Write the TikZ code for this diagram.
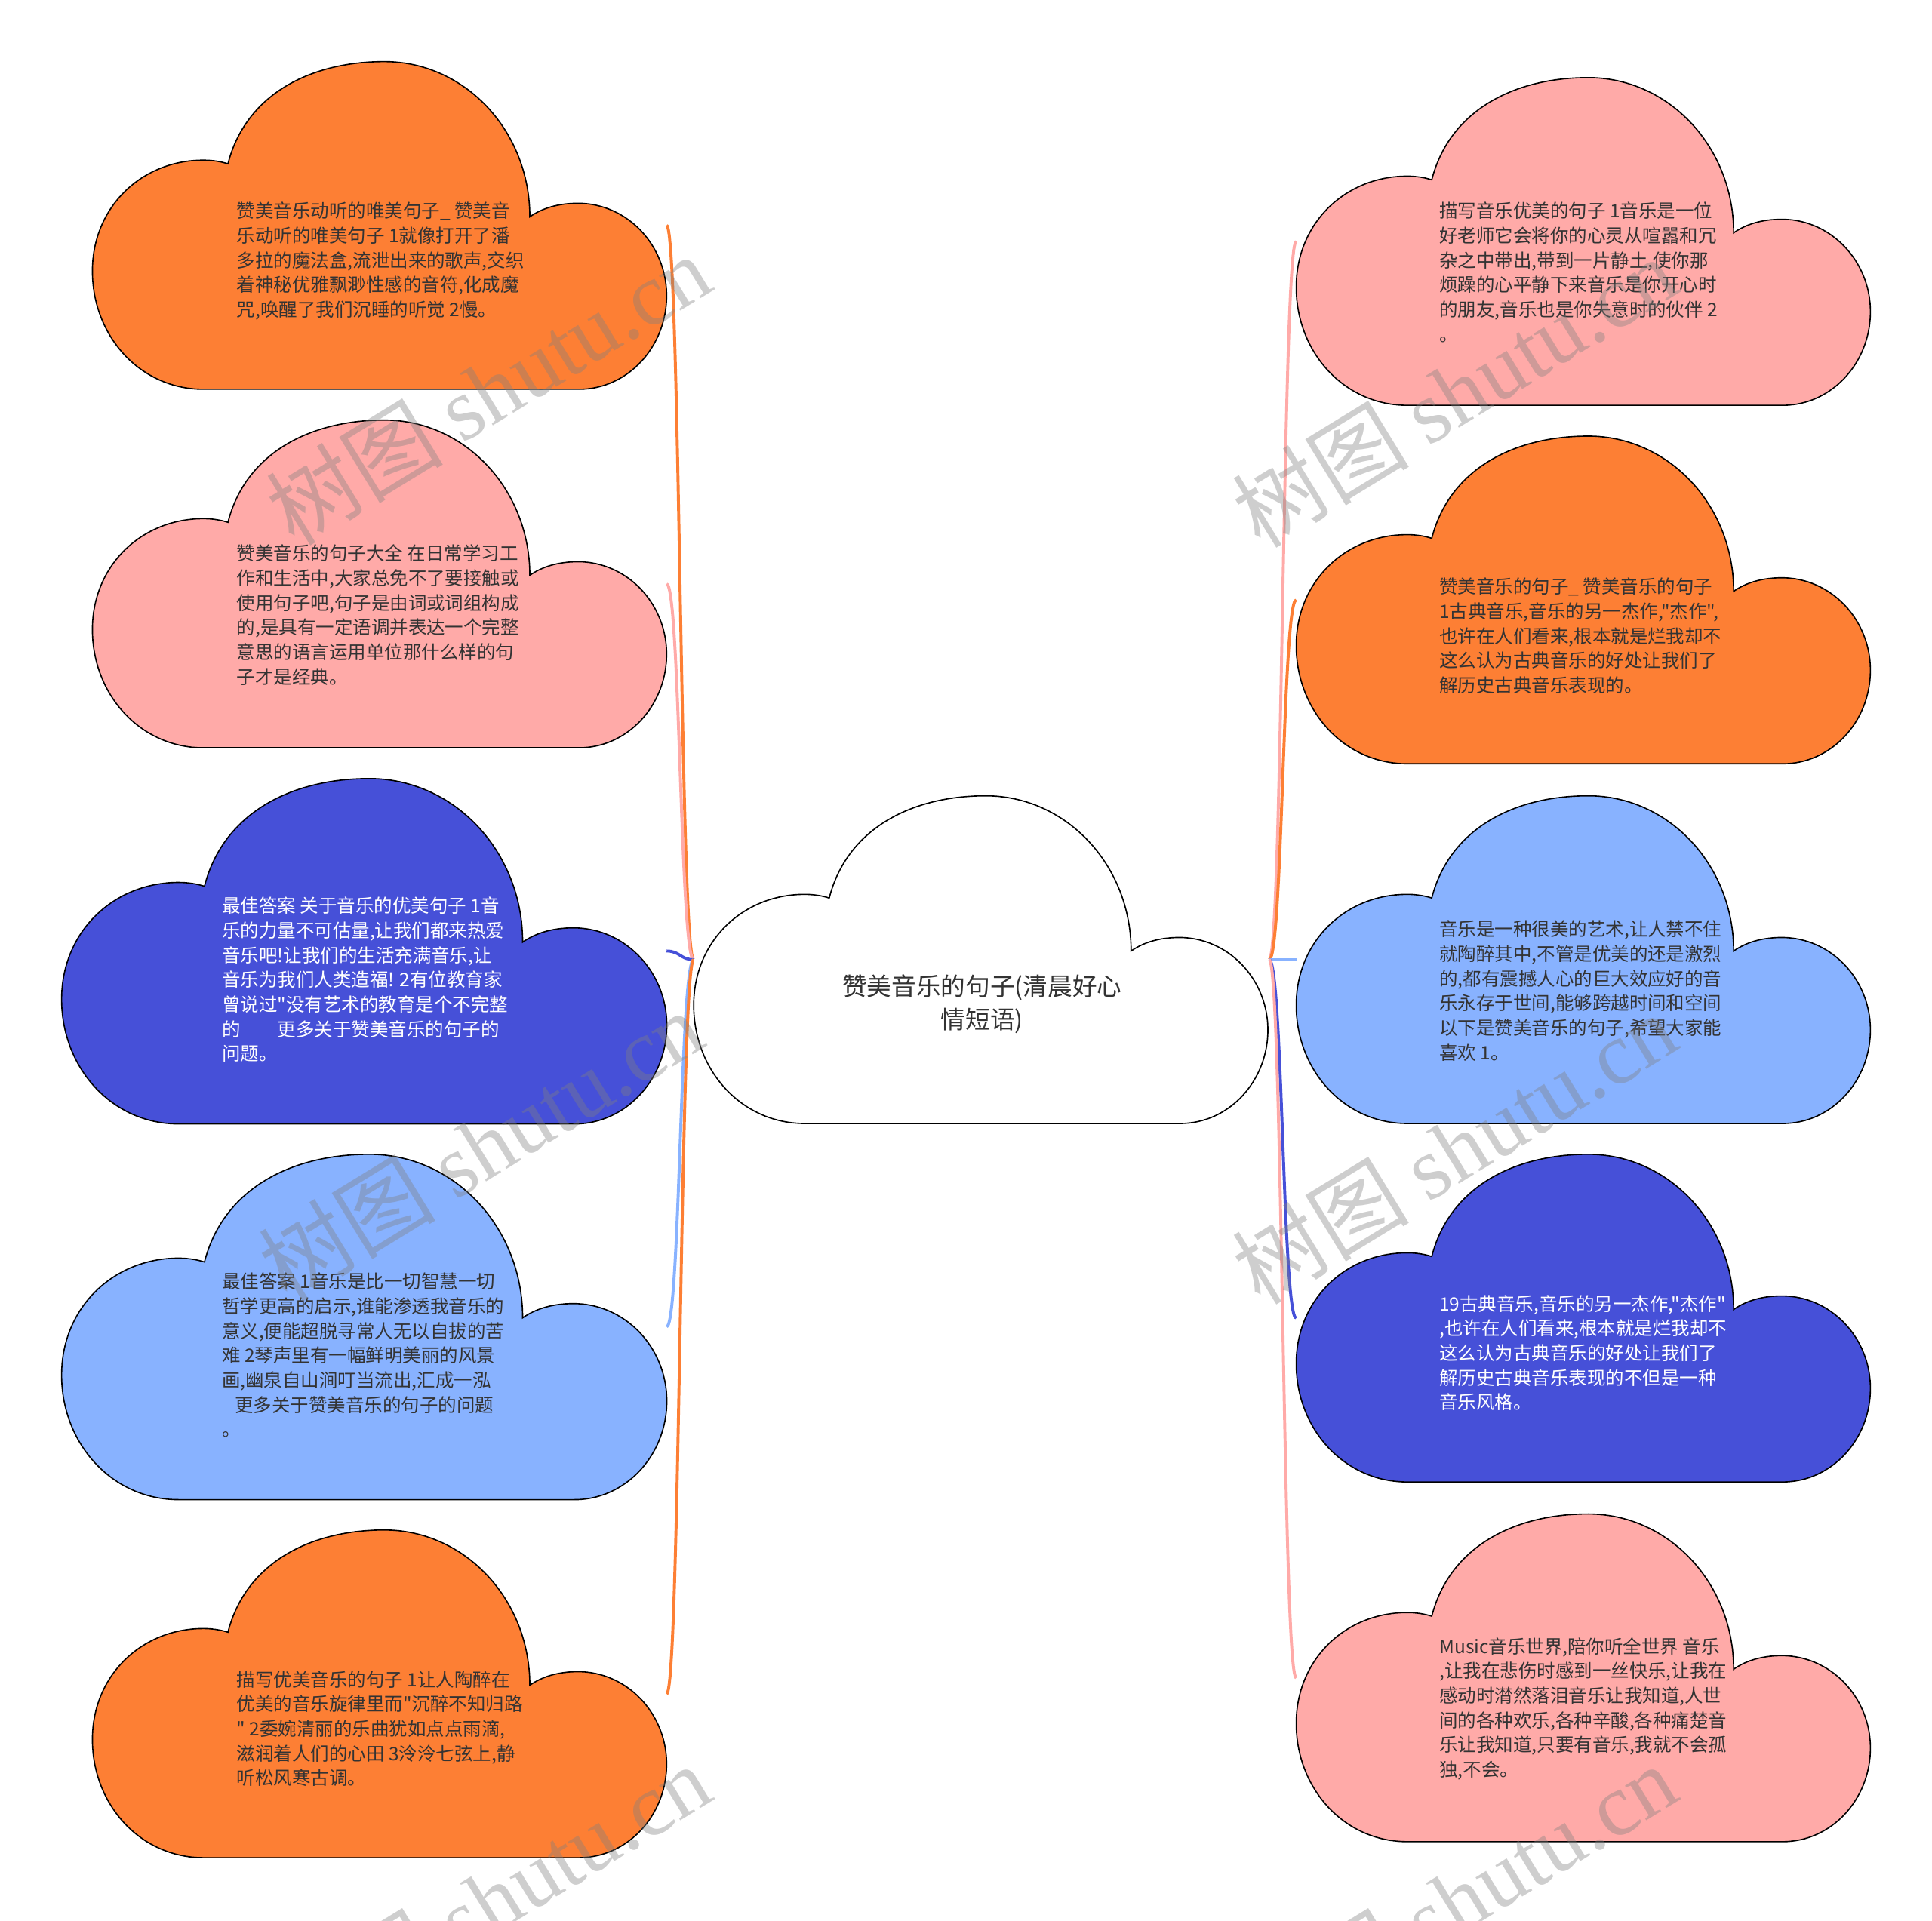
\documentclass[tikz,border=0pt]{standalone}
\usepackage{fontspec}
\newfontfamily\cjkfont{Noto Sans CJK SC}
\newfontfamily\wmlatin{Liberation Serif}
\usetikzlibrary{calc}
\definecolor{cOrange}{RGB}{253,127,52}
\definecolor{cPink}{RGB}{255,170,168}
\definecolor{cNavy}{RGB}{70,80,216}
\definecolor{cSky}{RGB}{136,178,255}
\definecolor{cText}{HTML}{333333}
\tikzset{
  cloudline/.style={draw=black,line width=1pt},
  conn/.style={line width=2.4pt},
  celltext/.style={anchor=west,align=left,inner sep=0pt,font=\cjkfont\fontsize{15}{20}\selectfont,text=cText},
  whitetext/.style={celltext,text=white},
  maintext/.style={align=center,inner sep=0pt,font=\cjkfont\fontsize{20}{27}\selectfont,text=cText},
  watermark/.style={inner sep=0pt,rotate=31.5,text=gray,opacity=0.38,font=\cjkfont\fontsize{72}{72}\selectfont}
}
\newcommand\cloudat[4]{%
  \begin{scope}[shift={(#1,#2)},scale=#3]
    \path[cloudline,fill=#4] (90,266) .. controls (39,266) and (0,223) .. (0,170)
      .. controls (0,118) and (40,80) .. (90,80)
      .. controls (97,80) and (104,81) .. (110,83)
      .. controls (124,28) and (175,0) .. (237,0)
      .. controls (302,0) and (355,56) .. (355,126)
      .. controls (365,119) and (378,115) .. (394,115)
      .. controls (434,115) and (466,149) .. (466,190)
      .. controls (466,232) and (434,266) .. (395,266)
      -- cycle;
  \end{scope}}
\newcommand\linkleft[2]{\draw[conn,#2] (JL) .. controls ($(JL)+(-11,0)$) and ($(#1)+(11,0)$) .. (#1);}
\newcommand\linkright[2]{\draw[conn,#2] (JR) .. controls ($(JR)+(11,0)$) and ($(#1)+(-11,0)$) .. (#1);}
\begin{document}
\begin{tikzpicture}[x=1pt,y=-1pt]
\fill[white] (0,0) rectangle (1568,1559);
\useasboundingbox (0,0) rectangle (1568,1559);
% junctions and connector ends
\coordinate (JL) at (563,779);
\coordinate (JR) at (1030,779);
\coordinate (L1e) at (541,183);
\coordinate (L2e) at (541,474);
\coordinate (L3e) at (541,772);
\coordinate (L4e) at (541,1077);
\coordinate (L5e) at (541,1375);
\coordinate (R1e) at (1052,196);
\coordinate (R2e) at (1052,487);
\coordinate (R3e) at (1052,779);
\coordinate (R4e) at (1052,1070);
\coordinate (R5e) at (1052,1362);
% connectors
\linkleft{L1e}{cOrange}
\linkleft{L2e}{cPink}
\linkleft{L3e}{cNavy}
\linkleft{L4e}{cSky}
\linkleft{L5e}{cOrange}
\linkright{R1e}{cPink}
\linkright{R2e}{cOrange}
\linkright{R3e}{cSky}
\linkright{R4e}{cNavy}
\linkright{R5e}{cPink}
% clouds
\cloudat{563}{646}{1}{white}
\cloudat{75}{50}{1}{cOrange}
\cloudat{75}{341}{1}{cPink}
\cloudat{50}{632}{1.054}{cNavy}
\cloudat{50}{937}{1.054}{cSky}
\cloudat{75}{1242}{1}{cOrange}
\cloudat{1052}{63}{1}{cPink}
\cloudat{1052}{354}{1}{cOrange}
\cloudat{1052}{646}{1}{cSky}
\cloudat{1052}{937}{1}{cNavy}
\cloudat{1052}{1229}{1}{cPink}
% texts
\node[maintext] (C) at (797,816) {\strut 赞美音乐的句子(清晨好心\\情短语)\strut};
\node[celltext] (L1) at (192,213) {\strut 赞美音乐动听的唯美句子\_ 赞美音\\乐动听的唯美句子 1就像打开了潘\\多拉的魔法盒,流泄出来的歌声,交织\\着神秘优雅飘渺性感的音符,化成魔\\咒,唤醒了我们沉睡的听觉 2慢。\strut};
\node[celltext] (L2) at (192,501) {\strut 赞美音乐的句子大全 在日常学习工\\作和生活中,大家总免不了要接触或\\使用句子吧,句子是由词或词组构成\\的,是具有一定语调并表达一个完整\\意思的语言运用单位那什么样的句\\子才是经典。\strut};
\node[whitetext] (L3) at (180,797) {\strut 最佳答案 关于音乐的优美句子 1音\\乐的力量不可估量,让我们都来热爱\\音乐吧!让我们的生活充满音乐,让\\音乐为我们人类造福! 2有位教育家\\曾说过"没有艺术的教育是个不完整\\的\hspace*{2em}更多关于赞美音乐的句子的\\问题。\strut};
\node[celltext] (L4) at (180,1102) {\strut 最佳答案 1音乐是比一切智慧一切\\哲学更高的启示,谁能渗透我音乐的\\意义,便能超脱寻常人无以自拔的苦\\难 2琴声里有一幅鲜明美丽的风景\\画,幽泉自山涧叮当流出,汇成一泓\\\hspace*{0.7em}更多关于赞美音乐的句子的问题\\。\strut};
\node[celltext] (L5) at (192,1405) {\strut 描写优美音乐的句子 1让人陶醉在\\优美的音乐旋律里而"沉醉不知归路\\" 2委婉清丽的乐曲犹如点点雨滴,\\滋润着人们的心田 3泠泠七弦上,静\\听松风寒古调。\strut};
\node[celltext] (R1) at (1168,223) {\strut 描写音乐优美的句子 1音乐是一位\\好老师它会将你的心灵从喧嚣和冗\\杂之中带出,带到一片静土,使你那\\烦躁的心平静下来音乐是你开心时\\的朋友,音乐也是你失意时的伙伴 2\\。\strut};
\node[celltext] (R2) at (1168,518) {\strut 赞美音乐的句子\_ 赞美音乐的句子\\1古典音乐,音乐的另一杰作,"杰作",\\也许在人们看来,根本就是烂我却不\\这么认为古典音乐的好处让我们了\\解历史古典音乐表现的。\strut};
\node[celltext] (R3) at (1168,806) {\strut 音乐是一种很美的艺术,让人禁不住\\就陶醉其中,不管是优美的还是激烈\\的,都有震撼人心的巨大效应好的音\\乐永存于世间,能够跨越时间和空间\\以下是赞美音乐的句子,希望大家能\\喜欢 1。\strut};
\node[whitetext] (R4) at (1168,1100) {\strut 19古典音乐,音乐的另一杰作,"杰作"\\,也许在人们看来,根本就是烂我却不\\这么认为古典音乐的好处让我们了\\解历史古典音乐表现的不但是一种\\音乐风格。\strut};
\node[celltext] (R5) at (1168,1388) {\strut Music音乐世界,陪你听全世界 音乐\\,让我在悲伤时感到一丝快乐,让我在\\感动时潸然落泪音乐让我知道,人世\\间的各种欢乐,各种辛酸,各种痛楚音\\乐让我知道,只要有音乐,我就不会孤\\独,不会。\strut};
% watermarks
\node[watermark] (W1) at (396,316) {树图 {\wmlatin shutu.cn}};
\node[watermark] (W2) at (390,930) {树图 {\wmlatin shutu.cn}};
\node[watermark] (W3) at (1180,318) {树图 {\wmlatin shutu.cn}};
\node[watermark] (W4) at (1180,932) {树图 {\wmlatin shutu.cn}};
\node[watermark] (W5) at (396,1542) {树图 {\wmlatin shutu.cn}};
\node[watermark] (W6) at (1180,1542) {树图 {\wmlatin shutu.cn}};
\end{tikzpicture}
\end{document}
